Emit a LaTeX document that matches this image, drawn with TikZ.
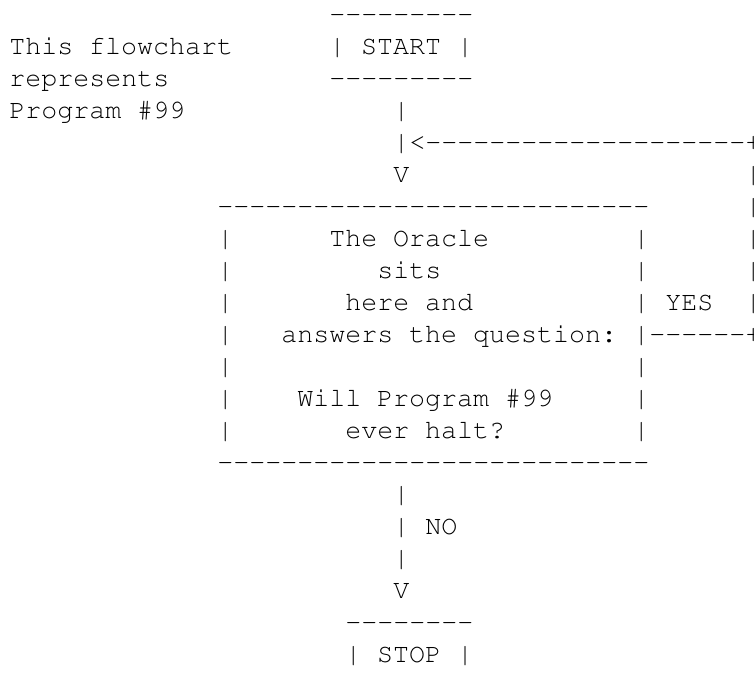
\documentclass[tikz,border=0pt]{standalone}
\usepackage[T1]{fontenc}

\newcommand\asciifont{\fontencoding{T1}\fontfamily{pcr}\fontsize{20}{24}\selectfont}
\newcommand\dashrun[1]{\foreach \k in {1,...,#1}{-}}

\tikzset{txt/.style={anchor=base west, inner sep=0pt, font=\asciifont}}

\begin{document}
\begin{tikzpicture}[x=12pt,y=-24pt]
        \useasboundingbox (-0.5625,-0.70625) rectangle (46.5625,20.73125);

        % note at the left
        \node[txt] (note1) at (0,1) {This flowchart};
        \node[txt] (note2) at (0,2) {represents};
        \node[txt] (note3) at (0,3) {Program \#99};

        % start box
        \node[txt] (startTop) at (20,0) {\dashrun{9}};
        \node[txt] (start) at (20,1) {| START |};
        \node[txt] (startBot) at (20,2) {\dashrun{9}};
        \node[txt] (v3) at (24,3) {|};
        \node[txt] (loopTop) at (24,4) {|<\dashrun{20}+};
        \node[txt] (arrowIn) at (24,5) {V};

        % loop back on the right
        \node[txt] (loop5) at (46,5) {|};
        \node[txt] (loop6) at (46,6) {|};
        \node[txt] (loop7) at (46,7) {|};
        \node[txt] (loop8) at (46,8) {|};
        \node[txt] (loop9) at (46,9) {|};
        \node[txt] (yes) at (41,9) {YES};

        % oracle box
        \node[txt] (boxTop) at (13,6) {\dashrun{27}};
        \node[txt] (sideL7) at (13,7) {|};
        \node[txt] (sideR7) at (39,7) {|};
        \node[txt] (sideL8) at (13,8) {|};
        \node[txt] (sideR8) at (39,8) {|};
        \node[txt] (sideL9) at (13,9) {|};
        \node[txt] (sideR9) at (39,9) {|};
        \node[txt] (sideL10) at (13,10) {|};
        \node[txt] (loopBot) at (39,10) {|\dashrun{6}+};
        \node[txt] (sideL11) at (13,11) {|};
        \node[txt] (sideR11) at (39,11) {|};
        \node[txt] (sideL12) at (13,12) {|};
        \node[txt] (sideR12) at (39,12) {|};
        \node[txt] (sideL13) at (13,13) {|};
        \node[txt] (sideR13) at (39,13) {|};
        \node[txt] (boxBot) at (13,14) {\dashrun{27}};

        \node[txt] (oracle1) at (20,7) {The Oracle};
        \node[txt] (oracle2) at (23,8) {sits};
        \node[txt] (oracle3) at (21,9) {here and};
        \node[txt] (oracle4) at (17,10) {answers the question:};
        \node[txt] (oracle5) at (18,12) {Will Program \#99};
        \node[txt] (oracle6) at (21,13) {ever halt?};

        % down to stop
        \node[txt] (v15) at (24,15) {|};
        \node[txt] (v16) at (24,16) {|};
        \node[txt] (no) at (26,16) {NO};
        \node[txt] (v17) at (24,17) {|};
        \node[txt] (arrowOut) at (24,18) {V};
        \node[txt] (stopTop) at (21,19) {\dashrun{8}};
        \node[txt] (stop) at (21,20) {| STOP |};
\end{tikzpicture}
\end{document}
